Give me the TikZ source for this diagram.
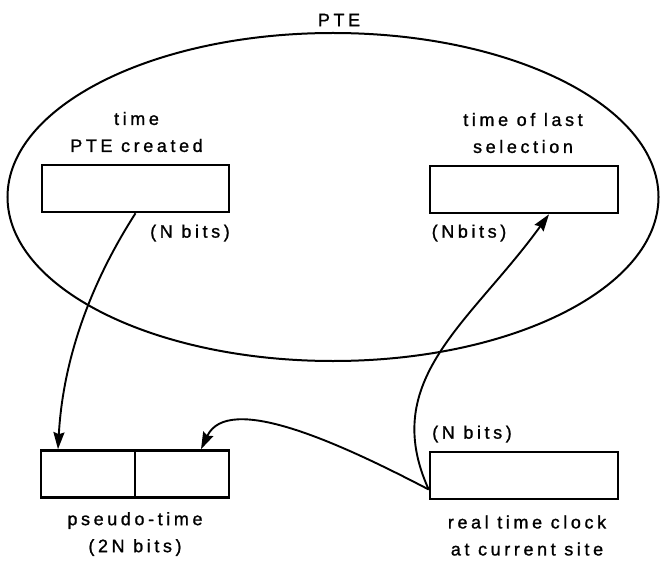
\documentclass[tikz,border=0pt]{standalone}
\usepackage{fontspec}
\newfontfamily\lettering{Liberation Sans}[LetterSpace=20,FakeBold=1.2]
\usetikzlibrary{arrows.meta,shapes.geometric}

\begin{document}
\begin{tikzpicture}[x=1pt,y=1pt,
        lbl/.style={font=\lettering\fontsize{18}{27}\selectfont,align=center,inner sep=0pt},
        reg/.style={draw,line width=2.6pt,minimum height=47pt,inner sep=0pt},
        link/.style={line width=1.9pt,-{Stealth[length=17pt,width=11pt,inset=2pt]}}]
            \useasboundingbox (0,0) rectangle (660,563);

            \node[draw,ellipse,line width=2pt,minimum width=651pt,minimum height=328pt] (pte) at (333,366) {};
            \node[lbl] (ptelbl) at (339,543) {PTE};

            \node[reg,minimum width=187pt] (created) at (135.5,374.5) {};
            \node[reg,minimum width=188pt] (last) at (524,373.5) {};
            \node[reg,minimum width=94pt] (pt1) at (88,89) {};
            \node[reg,minimum width=94pt] (pt2) at (182,89) {};
            \node[reg,minimum width=188pt] (clock) at (524,87.5) {};

            \node[lbl] (createdlbl) at (136.5,431) {time\\PTE created};
            \node[lbl] (lastlbl) at (523,430) {time of last\\selection};
            \node[lbl] (createdbits) at (190,330) {(N bits)};
            \node[lbl] (lastbits) at (469,330) {(Nbits)};
            \node[lbl] (clockbits) at (472,129) {(N bits)};
            \node[lbl] (ptlbl) at (135,29) {pseudo-time\\(2N bits)};
            \node[lbl] (clocklbl) at (527,27.5) {real time clock\\at current site};

            \draw[link] (created.south) .. controls +(-45,-70) and +(5,90) .. ([xshift=-30pt]pt1.north);
            \draw[link] ([yshift=-14pt]clock.west) .. controls +(-50,110) and +(-79,-109) .. ([xshift=25pt]last.south);
            \draw[link] ([yshift=-14pt]clock.west) .. controls +(-90,47) and +(27,57) .. ([xshift=19pt]pt2.north);
        \end{tikzpicture}
\end{document}
